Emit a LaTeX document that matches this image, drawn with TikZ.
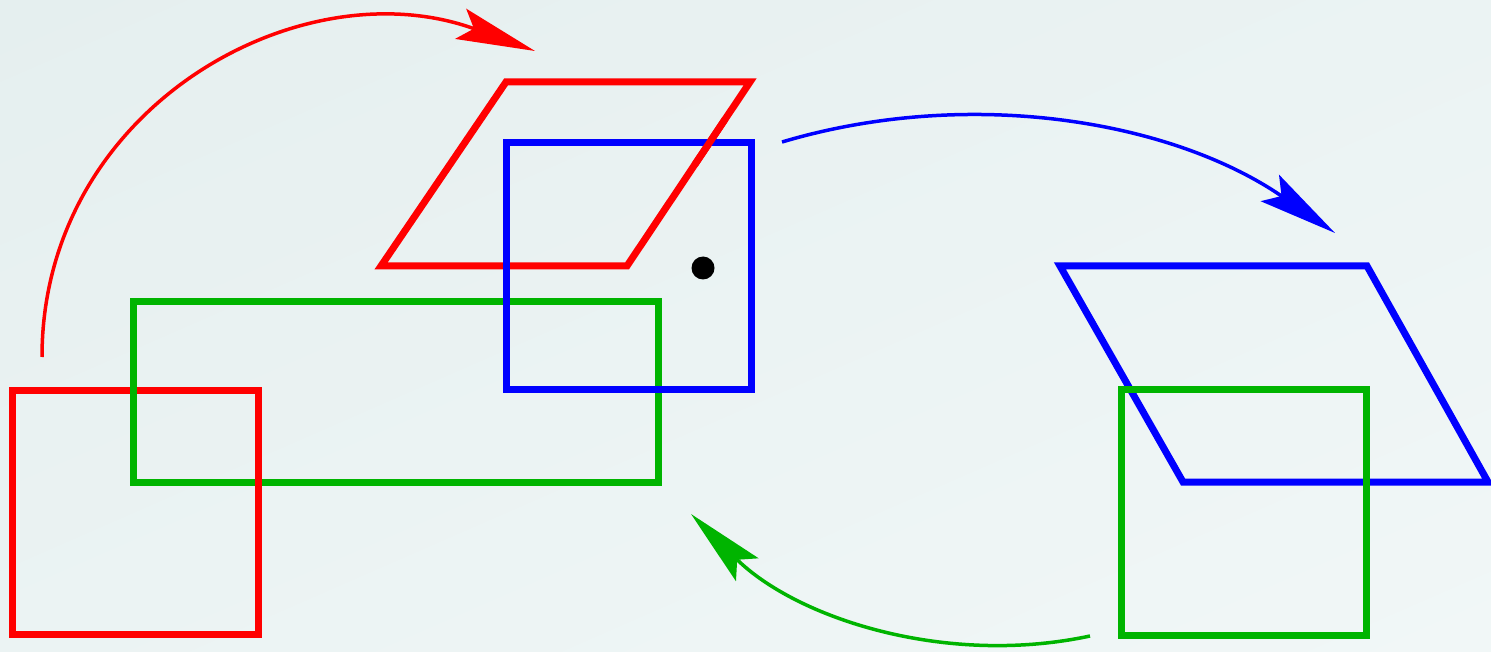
\documentclass[tikz,border=0pt]{standalone}
\usetikzlibrary{arrows.meta,shadings}
\definecolor{myred}{RGB}{255,0,0}
\definecolor{myblue}{RGB}{0,0,255}
\definecolor{mygreen}{RGB}{0,180,0}
\definecolor{bgA}{RGB}{229,239,239}
\definecolor{bgB}{RGB}{241,247,247}
\definecolor{bgM}{RGB}{235,243,243}
\begin{document}
\begin{tikzpicture}[x=1pt,y=-1pt,
  shapeline/.style={line width=7pt, line join=miter},
  curvearrow/.style={line width=3.5pt, -{Stealth[length=79pt,width=32pt,inset=14pt]}}]
\useasboundingbox (0,0) rectangle (1491,652);
\shade[upper left=bgA, lower right=bgB, upper right=bgM, lower left=bgM] (0,0) rectangle (1491,652);
% shapes
\draw[shapeline, myred] (12,390) rectangle (258,634);
\draw[shapeline, mygreen] (133,302) rectangle (658,482);
\draw[shapeline, myred] (258,460) -- (258,505);
\draw[shapeline, myred] (381,266) -- (627,266) -- (750,82) -- (506,82) -- cycle;
\draw[shapeline, myblue] (506,143) rectangle (751,389);
\draw[shapeline, myred] (694.7,164.8) -- (725.4,118.8);
\fill[black] (703,268) circle[radius=11.5];
\draw[shapeline, myblue] (1060,266) -- (1367,266) -- (1488,482) -- (1183,482) -- cycle;
\draw[shapeline, mygreen] (1121,389) rectangle (1366,635);
% arrow end points
\coordinate (rs) at (42,357);
\coordinate (re) at (535,51);
\coordinate (bs) at (782,142);
\coordinate (be) at (1335,233);
\coordinate (gs) at (1090,636);
\coordinate (ge) at (691,514);
\draw[curvearrow, myred] (rs) .. controls (42,108) and (300,-35) .. (re);
\draw[curvearrow, myblue] (bs) .. controls (970,86) and (1173,121) .. (be);
\draw[curvearrow, mygreen] (gs) .. controls (945,667) and (796,618) .. (ge);
\end{tikzpicture}
\end{document}
